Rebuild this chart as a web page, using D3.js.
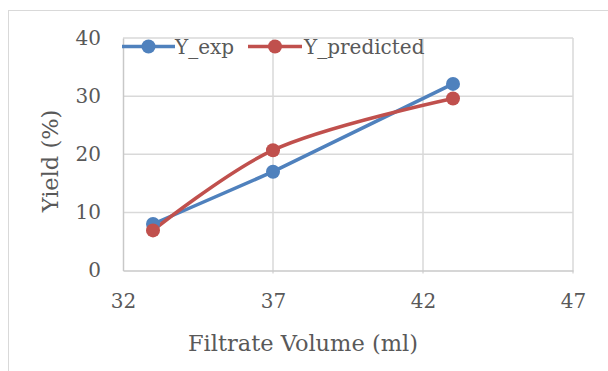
<!DOCTYPE html>
<html>
<head>
<meta charset="utf-8">
<script src="https://cdn.jsdelivr.net/npm/d3@7"></script>
<style>
	body { margin: 0; background: #fff; }
	svg text { font-family: 'DejaVu Serif', serif; fill: #595959; }
</style>
</head>
<body>
<div id="app"></div>
<script>
// chart data
var xValues = [33, 37, 43]
var yExp = [8.0, 17.0, 32.1]
var yPredicted = [6.9, 20.7, 29.6]
var seriesNames = ['Y_exp', 'Y_predicted']
var xTicks = [32, 37, 42, 47]
var yTicks = [0, 10, 20, 30, 40]

var width = 608
var height = 371
var margin = { top: 38, right: 35, bottom: 100.5, left: 123 }

var colors = ['#4F81BD', '#C0504D']

var svg = d3.select('#app')
	.append('svg')
	  .attr('width', width)
	  .attr('height', height)

// chart area border
svg.append('rect')
	.attr('x', 8.5).attr('y', 10.5)
	.attr('width', width + 10).attr('height', height + 10)
	.attr('fill', '#fff')
	.attr('stroke', '#d9d9d9')
	.attr('stroke-width', 1)

var x = d3.scaleLinear()
	.domain([32, 47])
	.range([margin.left, width - margin.right])

var y = d3.scaleLinear()
	.domain([0, 40])
	.range([height - margin.bottom, margin.top])

var g = svg.append('g')

// gridlines
g.selectAll('.hgrid').data(yTicks.slice(1))
  .enter().append('line')
	.attr('x1', x(32)).attr('x2', x(47))
	.attr('y1', function(d) { return y(d) })
	.attr('y2', function(d) { return y(d) })
	.attr('stroke', '#d9d9d9')
	.attr('stroke-width', 1.5)

g.selectAll('.vgrid').data(xTicks.slice(1))
  .enter().append('line')
	.attr('x1', function(d) { return x(d) })
	.attr('x2', function(d) { return x(d) })
	.attr('y1', y(40)).attr('y2', y(0) + 3)
	.attr('stroke', '#d9d9d9')
	.attr('stroke-width', 1.5)

// axes
var xAxis = d3.axisBottom(x).tickValues(xTicks).tickSize(0).tickPadding(23)
var yAxis = d3.axisLeft(y).tickValues(yTicks).tickSize(0).tickPadding(22)

var gx = g.append('g')
	.attr('transform', 'translate(0,' + y(0) + ')')
	.call(xAxis)
gx.select('.domain').attr('stroke', '#c8c8c8').attr('stroke-width', 1.5)
gx.selectAll('text').style('font-size', '20px').attr('fill', '#595959')
	.attr('font-family', 'DejaVu Serif')

var gy = g.append('g')
	.attr('transform', 'translate(' + x(32) + ',0)')
	.call(yAxis)
gy.select('.domain').attr('stroke', '#c8c8c8').attr('stroke-width', 1.5)
gy.selectAll('text').style('font-size', '20px').attr('fill', '#595959')
	.attr('font-family', 'DejaVu Serif')

// axis titles
svg.append('text')
	.attr('x', 303).attr('y', 351)
	.attr('text-anchor', 'middle')
	.style('font-size', '22.5px')
	.text('Filtrate Volume (ml)')

svg.append('text')
	.attr('transform', 'translate(58,161) rotate(-90)')
	.attr('text-anchor', 'middle')
	.style('font-size', '22.5px')
	.text('Yield (%)')

// series
var series = [yExp, yPredicted].map(function(vals, i) {
	return {
		name: seriesNames[i],
		color: colors[i],
		points: xValues.map(function(xv, j) { return [xv, vals[j]] })
	}
})

var lineStraight = d3.line()
	.x(function(d) { return x(d[0]) })
	.y(function(d) { return y(d[1]) })

var lineSmooth = d3.line()
	.x(function(d) { return x(d[0]) })
	.y(function(d) { return y(d[1]) })
	.curve(d3.curveCatmullRom.alpha(0.5))

series.forEach(function(s, i) {
	g.append('path')
		.datum(s.points)
		.attr('fill', 'none')
		.attr('stroke', s.color)
		.attr('stroke-width', 3.5)
		.attr('stroke-linejoin', 'round')
		.attr('d', i === 0 ? lineStraight : lineSmooth)
})

series.forEach(function(s) {
	g.selectAll(null).data(s.points)
	  .enter().append('circle')
		.attr('cx', function(d) { return x(d[0]) })
		.attr('cy', function(d) { return y(d[1]) })
		.attr('r', 7)
		.attr('fill', s.color)
})

// legend
var legendItems = [
	{ x1: 122, x2: 175, text: 175 },
	{ x1: 248, x2: 302, text: 304 }
]
var legendY = 46.5

var leg = svg.append('g')
series.forEach(function(s, i) {
	var it = legendItems[i]
	leg.append('line')
		.attr('x1', it.x1).attr('x2', it.x2)
		.attr('y1', legendY).attr('y2', legendY)
		.attr('stroke', s.color)
		.attr('stroke-width', 3.5)
	leg.append('circle')
		.attr('cx', (it.x1 + it.x2) / 2)
		.attr('cy', legendY)
		.attr('r', 7)
		.attr('fill', s.color)
	leg.append('text')
		.attr('x', it.text)
		.attr('y', legendY)
		.attr('dy', '0.35em')
		.style('font-size', '20px')
		.text(s.name)
})
</script>
</body>
</html>
